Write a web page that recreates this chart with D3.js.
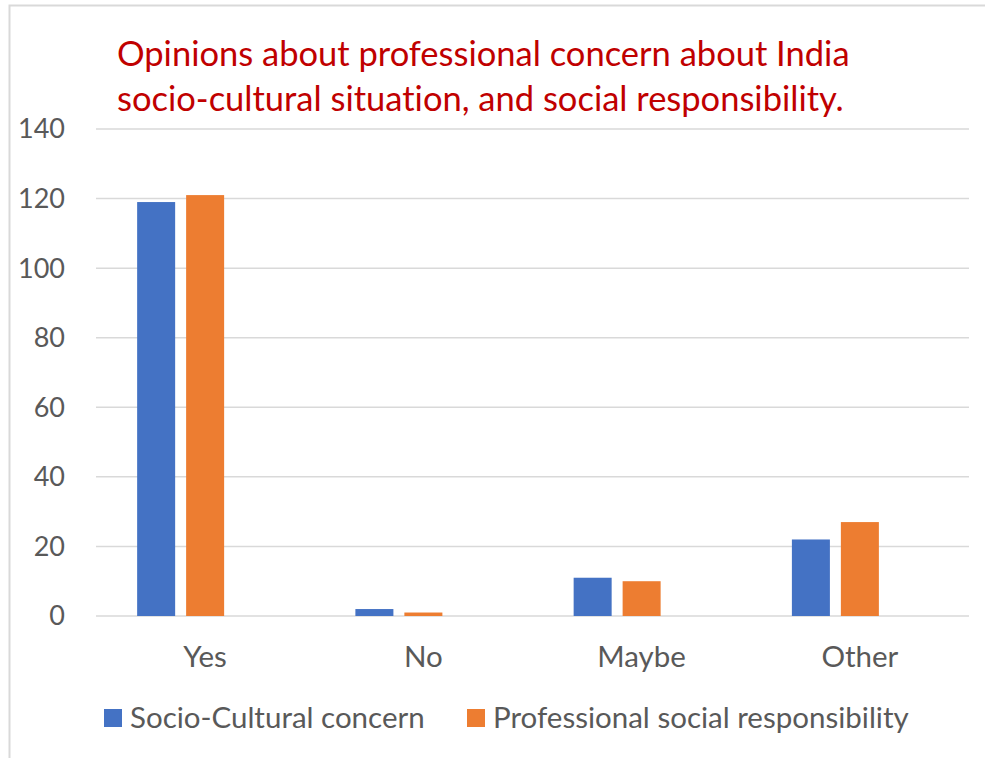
<!DOCTYPE html>
<html>
<head>
<meta charset="utf-8">
<script src="https://cdn.jsdelivr.net/npm/d3@7"></script>
<style>
  body { margin: 0; background: #fff; }
  svg { display: block; font-family: Lato, "Open Sans", sans-serif; font-variant-ligatures: none; }
</style>
</head>
<body>
<div id="chart"></div>
<script>
// data
const categories = ["Yes", "No", "Maybe", "Other"];
const seriesNames = ["Socio-Cultural concern", "Professional social responsibility"];
const socioCultural = [119, 2, 11, 22];
const professional = [121, 1, 10, 27];
const yTicks = [0, 20, 40, 60, 80, 100, 120, 140];
const colors = ["#4472C4", "#ED7D31"];

const W = 985, H = 758;
const margin = { top: 129, right: 16, bottom: 142, left: 96 };
const width = W - margin.left - margin.right,
  height = H - margin.top - margin.bottom;

const svg = d3.select("#chart").append("svg")
  .attr("width", W)
  .attr("height", H);

svg.append("rect").attr("width", W).attr("height", H).attr("fill", "#fff");

// chart border (runs off the right / bottom edge)
svg.append("rect")
  .attr("x", 9.5).attr("y", 5.5)
  .attr("width", 1100).attr("height", 1100)
  .attr("fill", "none")
  .attr("stroke", "#d9d9d9")
  .attr("stroke-width", 2);

// title
const title = svg.append("text")
  .attr("x", 117)
  .attr("fill", "#C00000")
  .style("font-size", "34.5px");
title.append("tspan").attr("x", 117).attr("y", 66).text("Opinions about professional concern about India");
title.append("tspan").attr("x", 117).attr("y", 111).text("socio-cultural situation, and social responsibility.");

const g = svg.append("g").attr("transform", `translate(${margin.left},${margin.top})`);

const x0 = d3.scaleBand().domain(categories).range([0, width]);
// three slots per category (third one empty, like the original)
const x1 = d3.scaleBand().domain([0, 1, 2]).range([0, x0.bandwidth()])
  .paddingInner(0.224).paddingOuter(0.84);
const y = d3.scaleLinear().domain([0, 140]).range([height, 0]);

// gridlines
g.append("g")
  .selectAll("line")
  .data(yTicks)
  .join("line")
  .attr("x1", 0).attr("x2", width)
  .attr("y1", d => y(d)).attr("y2", d => y(d))
  .attr("stroke", "#d9d9d9")
  .attr("stroke-width", 1.5);

// y labels
g.append("g")
  .selectAll("text")
  .data(yTicks)
  .join("text")
  .attr("x", -31)
  .attr("y", d => y(d))
  .attr("dy", "0.35em")
  .attr("text-anchor", "end")
  .attr("fill", "#595959")
  .style("font-size", "27px")
  .text(d => d);

// bars
const series = [socioCultural, professional];
series.forEach((vals, si) => {
  g.append("g")
    .selectAll("rect")
    .data(vals)
    .join("rect")
    .attr("x", (d, i) => x0(categories[i]) + x1(si))
    .attr("width", x1.bandwidth())
    .attr("y", d => y(d))
    .attr("height", d => y(0) - y(d))
    .attr("fill", colors[si]);
});

// x labels
g.append("g")
  .selectAll("text")
  .data(categories)
  .join("text")
  .attr("x", d => x0(d) + x0.bandwidth() / 2)
  .attr("y", height + 51)
  .attr("text-anchor", "middle")
  .attr("fill", "#595959")
  .style("font-size", "29.5px")
  .text(d => d);

// legend
const legendX = [104, 467];
const legend = svg.append("g");
seriesNames.forEach((name, i) => {
  legend.append("rect")
    .attr("x", legendX[i]).attr("y", 709)
    .attr("width", 18).attr("height", 18)
    .attr("fill", colors[i]);
  legend.append("text")
    .attr("x", legendX[i] + 26).attr("y", 728)
    .attr("fill", "#595959")
    .style("font-size", "29.5px")
    .text(name);
});
</script>
</body>
</html>
